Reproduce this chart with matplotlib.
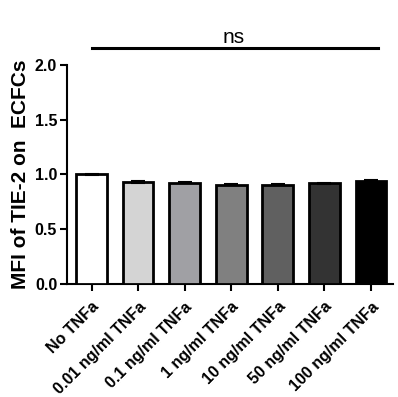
import numpy as np
import matplotlib
matplotlib.use("Agg")
import matplotlib.pyplot as plt

plt.rcParams['font.family'] = ['Liberation Sans', 'DejaVu Sans']

categories = ["No TNFa", "0.01 ng/ml TNFa", "0.1 ng/ml TNFa", "1 ng/ml TNFa",
              "10 ng/ml TNFa", "50 ng/ml TNFa", "100 ng/ml TNFa"]
values = [1.0, 0.93, 0.925, 0.905, 0.905, 0.92, 0.94]
errors = [0.006, 0.006, 0.005, 0.004, 0.004, 0.005, 0.006]
colors = ["#ffffff", "#d4d4d4", "#a0a0a4", "#808080", "#606060", "#333333", "#000000"]

fig = plt.figure(figsize=(3.98, 3.97), dpi=100)
ax = fig.add_axes([0.168, 0.285, 0.819, 0.551])

x = np.arange(len(categories))
ax.bar(x, values, width=0.66, color=colors, edgecolor="black", linewidth=2.0,
       yerr=errors, error_kw=dict(ecolor="black", elinewidth=1.5, capsize=5, capthick=1.5),
       zorder=3)

ax.set_xlim(-0.53, 6.47)
ax.set_ylim(0, 2.0)
ax.set_yticks([0.0, 0.5, 1.0, 1.5, 2.0])
ax.set_yticklabels(["0.0", "0.5", "1.0", "1.5", "2.0"], fontweight="bold", fontsize=11.5)
ax.set_xticks(x)
ax.set_xticklabels(categories, rotation=45, ha="right", rotation_mode="anchor",
                   fontweight="bold", fontsize=11.5)
ax.set_ylabel("MFI of TIE-2 on  ECFCs", fontweight="bold", fontsize=15, labelpad=3)

for s in ["top", "right"]:
    ax.spines[s].set_visible(False)
for s in ["left", "bottom"]:
    ax.spines[s].set_linewidth(1.5)
ax.tick_params(axis="both", width=1.5, length=5, direction="out")
ax.tick_params(axis="y", pad=2)
ax.tick_params(axis="x", pad=6)

# significance bar
ax.plot([0, 6.15], [2.16, 2.16], color="black", linewidth=2.2, clip_on=False)
ax.text(3.05, 2.165, "ns", ha="center", va="bottom", fontsize=15)

fig.savefig("out.png", dpi=100)
